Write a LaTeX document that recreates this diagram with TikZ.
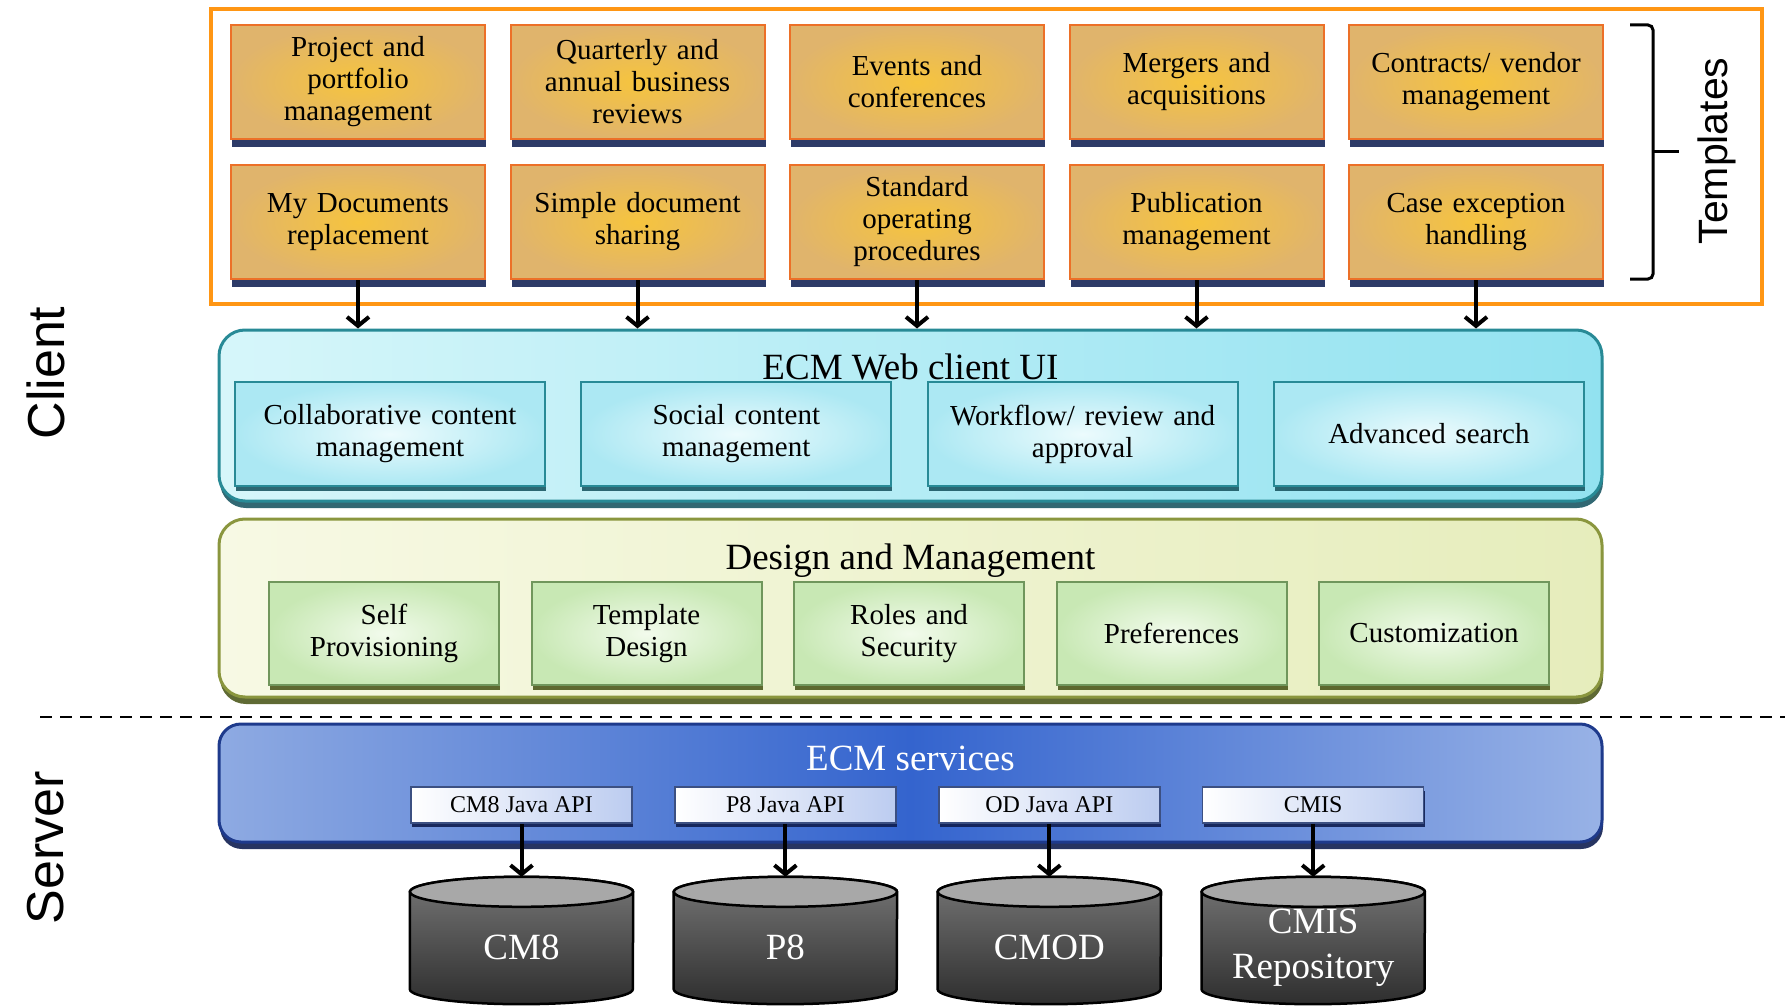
\documentclass[tikz,border=0pt]{standalone}
\usepackage{fontspec}
\setmainfont{Liberation Serif}
\newfontfamily\sidefont{Liberation Sans}
\usetikzlibrary{arrows.meta,shadows,positioning}

\definecolor{frameorange}{RGB}{255,150,20}
\definecolor{tplin}{RGB}{246,196,62}
\definecolor{tplout}{RGB}{224,180,108}
\definecolor{tplline}{RGB}{236,112,40}
\definecolor{tplshadow}{RGB}{22,38,88}
\definecolor{webleft}{RGB}{214,246,250}
\definecolor{webright}{RGB}{146,226,240}
\definecolor{webline}{RGB}{40,138,150}
\definecolor{webshadow}{RGB}{28,88,100}
\definecolor{webin}{RGB}{236,251,253}
\definecolor{webout}{RGB}{172,232,243}
\definecolor{dsgleft}{RGB}{247,249,228}
\definecolor{dsgright}{RGB}{230,237,188}
\definecolor{dsgline}{RGB}{138,150,62}
\definecolor{dsgshadow}{RGB}{78,90,30}
\definecolor{dsgin}{RGB}{242,251,236}
\definecolor{dsgout}{RGB}{200,232,180}
\definecolor{dsgbox}{RGB}{112,150,92}
\definecolor{srvleft}{RGB}{142,170,226}
\definecolor{srvmid}{RGB}{52,100,206}
\definecolor{srvright}{RGB}{152,178,230}
\definecolor{srvline}{RGB}{30,58,140}
\definecolor{srvshadow}{RGB}{16,30,80}
\definecolor{apiright}{RGB}{188,204,240}
\definecolor{apiline}{RGB}{60,80,130}
\definecolor{cyltopc}{RGB}{118,118,118}
\definecolor{cylbotc}{RGB}{46,46,46}
\definecolor{cyllid}{RGB}{168,168,168}

\tikzset{
  tplbox/.style={draw=tplline, line width=2pt, shading=radial, inner color=tplin, outer color=tplout,
    minimum width=254pt, minimum height=114pt, text width=244pt, align=center,
    font=\fontsize{29}{32}\selectfont,
    drop shadow={shadow xshift=1pt, shadow yshift=-8pt, fill=tplshadow, opacity=.9}},
  panel/.style={line width=3pt, rounded corners=26pt, minimum width=1383pt},
  paneltitle/.style={anchor=base, font=\fontsize{37}{44}\selectfont},
  webbox/.style={draw=webline, line width=2pt, shading=radial, inner color=webin, outer color=webout,
    minimum width=310pt, minimum height=104pt, text width=300pt, align=center,
    font=\fontsize{29}{32}\selectfont,
    drop shadow={shadow xshift=1pt, shadow yshift=-5pt, fill=webshadow, opacity=.9}},
  dsgbox/.style={draw=dsgbox, line width=2pt, shading=radial, inner color=dsgin, outer color=dsgout,
    minimum width=230pt, minimum height=103pt, text width=222pt, align=center,
    font=\fontsize{29}{32}\selectfont,
    drop shadow={shadow xshift=1pt, shadow yshift=-5pt, fill=dsgshadow, opacity=.9}},
  apibox/.style={draw=apiline, line width=1.5pt, left color=white, right color=apiright,
    minimum width=221pt, minimum height=36pt, inner sep=0pt,
    font=\fontsize{24}{28}\selectfont,
    drop shadow={shadow xshift=1pt, shadow yshift=-4pt, fill=srvshadow, opacity=.9}},
  repo/.style={minimum width=223pt, minimum height=127pt, inner sep=0pt},
  cylbody/.style={draw=black, line width=2.5pt, top color=cyltopc, bottom color=cylbotc},
  cyllid/.style={draw=black, line width=2.5pt, fill=cyllid},
  repolabel/.style={text=white, align=center, font=\fontsize{37}{45}\selectfont},
  sidelabel/.style={rotate=90, font=\sidefont\fontsize{52}{52}\selectfont},
  flow/.style={line width=4pt, -{Straight Barb[length=9pt,width=22pt]}}
}

\begin{document}
\begin{tikzpicture}[x=1pt,y=-1pt]
  \useasboundingbox (0,0) rectangle (1785,1006);

  % templates
  \node[draw=frameorange, line width=4pt, minimum width=1551pt, minimum height=295pt] (tplframe) at (986.5,156.5) {};
  \foreach \txt [count=\i] in {{Project and\\portfolio\\management}, {Quarterly and\\annual business\\reviews},
      {Events and\\conferences}, {Mergers and\\acquisitions}, {Contracts/ vendor\\management}}
    \node[tplbox] (ta-\i) at (358+279.5*\i-279.5,82) {\txt};
  \foreach \txt [count=\i] in {{My Documents\\replacement}, {Simple document\\sharing},
      {Standard\\operating\\procedures}, {Publication\\management}, {Case exception\\handling}}
    \node[tplbox] (tb-\i) at (358+279.5*\i-279.5,222) {\txt};
  \draw[line width=3pt, rounded corners=5pt] (1630,25) -- (1653,25) -- (1653,279) -- (1630,279);
  \draw[line width=3pt] (1653,151) -- (1679,151);
  \node[rotate=90, font=\sidefont\fontsize{41}{41}\selectfont] (tpllabel) at (1717,151) {Templates};

  % web client
  \node[panel, draw=webline, left color=webleft, right color=webright, minimum height=171pt,
    drop shadow={shadow xshift=1pt, shadow yshift=-7pt, fill=webshadow, opacity=.9}] (web) at (910.5,415.5) {};
  \node[paneltitle] (webtitle) at (910.5,379) {ECM Web client UI};
  \foreach \txt [count=\i] in {{Collaborative content\\management}, {Social content\\management},
      {Workflow/ review and\\approval}, {Advanced search}}
    \node[webbox] (wb-\i) at (390+346.3*\i-346.3,434) {\txt};
  \foreach \i in {1,...,5}
    \draw[flow] (tb-\i.south) -- (tb-\i.south |- web.north);

  % design and management
  \node[panel, draw=dsgline, left color=dsgleft, right color=dsgright, minimum height=178pt,
    drop shadow={shadow xshift=1pt, shadow yshift=-7pt, fill=dsgshadow, opacity=.9}] (design) at (910.5,608) {};
  \node[paneltitle] (dsgtitle) at (910.5,569) {Design and Management};
  \foreach \txt [count=\i] in {{Self\\Provisioning}, {Template\\Design}, {Roles and\\Security},
      {Preferences}, {Customization}}
    \node[dsgbox] (dm-\i) at (384+262.5*\i-262.5,633.5) {\txt};

  % client / server split
  \coordinate (splitL) at (40,717);
  \coordinate (splitR) at (1785,717);
  \draw[line width=2.5pt, dash pattern=on 12pt off 8pt] (splitL) -- (splitR);
  \node[sidelabel] (client) at (46,373) {Client};
  \node[sidelabel] (server) at (46,848) {Server};

  % services
  \node[panel, draw=srvline, left color=srvleft, right color=srvright, middle color=srvmid,
    minimum height=118pt, rounded corners=22pt,
    drop shadow={shadow xshift=1pt, shadow yshift=-7pt, fill=srvshadow, opacity=.9}] (services) at (910.5,783) {};
  \node[paneltitle, text=white] (srvtitle) at (910.5,770) {ECM services};
  \foreach \txt [count=\i] in {CM8 Java API, P8 Java API, OD Java API, CMIS}
    \node[apibox] (api-\i) at (521.5+263.9*\i-263.9,805) {\txt};

  % repositories
  \foreach \txt [count=\i] in {CM8, P8, CMOD, {CMIS\\Repository}} {
    \node[repo] (repo-\i) at (521.5+263.9*\i-263.9,940.5) {};
    \path[cylbody] ([yshift=-15pt]repo-\i.north west) -- ([yshift=15pt]repo-\i.south west)
      arc[start angle=180, end angle=360, x radius=111.5pt, y radius=15pt]
      -- ([yshift=-15pt]repo-\i.north east)
      arc[start angle=0, end angle=180, x radius=111.5pt, y radius=15pt] -- cycle;
    \draw[cyllid] ([yshift=-15pt]repo-\i.north) ellipse[x radius=111.5pt, y radius=15pt];
    \node[repolabel] (repotxt-\i) at ([yshift=-7pt]repo-\i.center) {\txt};
    \draw[flow] (api-\i.south) -- (repo-\i.north);
  }
\end{tikzpicture}
\end{document}
